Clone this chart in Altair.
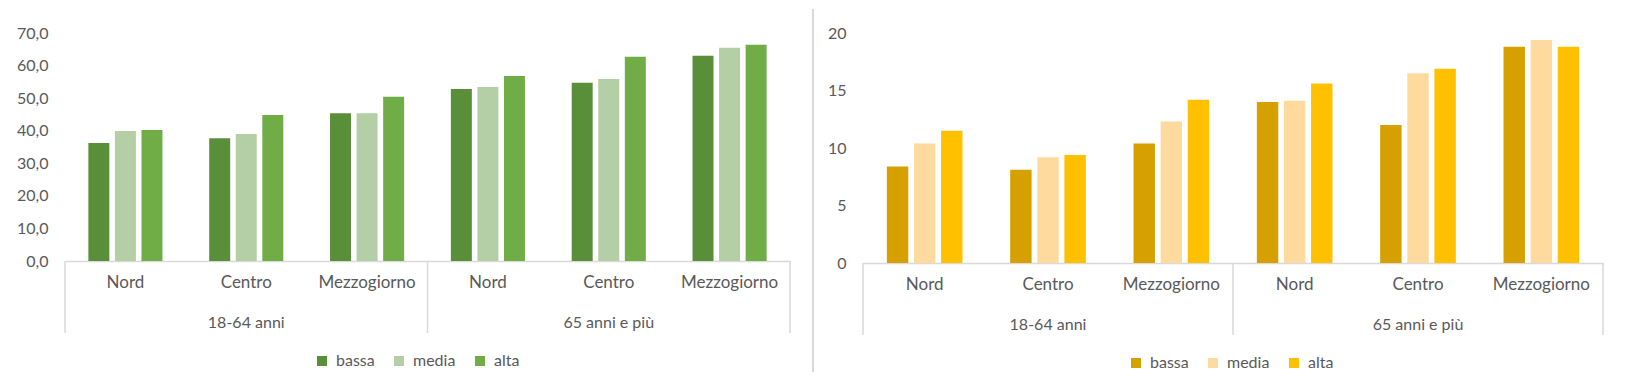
import altair as alt
import pandas as pd

groups = ["18-64 anni", "65 anni e più"]
regions = ["Nord", "Centro", "Mezzogiorno"]
series = ["bassa", "media", "alta"]

left_bassa = [36.2, 37.7, 45.4, 52.8, 54.7, 63.0]
left_media = [39.9, 39.0, 45.4, 53.4, 55.9, 65.5]
left_alta = [40.2, 44.8, 50.4, 56.8, 62.7, 66.4]

right_bassa = [8.4, 8.1, 10.4, 14.0, 12.0, 18.8]
right_media = [10.4, 9.2, 12.3, 14.1, 16.5, 19.4]
right_alta = [11.5, 9.4, 14.2, 15.6, 16.9, 18.8]

left_colors = ["#5A8F3A", "#B4CFA5", "#70AD47"]
right_colors = ["#D5A000", "#FFDA9E", "#FFC000"]

left_ticks = [0, 10, 20, 30, 40, 50, 60, 70]
right_ticks = [0, 5, 10, 15, 20]

cats = [f"{g}|{r}" for g in groups for r in regions]

FONT = "Lato"
TXT = "#595959"
GRID = "#D9D9D9"


def make_df(b, m, a):
    rows = []
    for i, c in enumerate(cats):
        for s, vals in zip(series, (b, m, a)):
            rows.append({"cat": c, "serie": s, "val": vals[i]})
    return pd.DataFrame(rows)


def panel(df, colors, ticks, label_expr, width, height, legend_x, divider=False):
    xscale = alt.Scale(domain=cats, paddingInner=0, paddingOuter=0)
    xaxis = alt.Axis(title=None, labelExpr="split(datum.value, '|')[1]", labelAngle=0,
                     ticks=False, domainColor=GRID, domainWidth=1.5, labelPadding=13,
                     labelFont=FONT, labelFontSize=17, labelColor=TXT, labelBaseline="top")
    bars = alt.Chart(df).mark_bar().encode(
        x=alt.X("cat:N", sort=cats, scale=xscale, axis=xaxis),
        xOffset=alt.XOffset("serie:N", sort=series,
                            scale=alt.Scale(domain=series, paddingInner=0.21, paddingOuter=0.88)),
        y=alt.Y("val:Q", scale=alt.Scale(domain=[ticks[0], ticks[-1]], nice=False),
                axis=alt.Axis(title=None, values=ticks, grid=False, domain=False, ticks=False,
                              labelExpr=label_expr, labelPadding=17, minExtent=57, maxExtent=57,
                              labelFont=FONT, labelFontSize=16, labelColor=TXT)),
        color=alt.Color("serie:N", sort=series,
                        scale=alt.Scale(domain=series, range=colors),
                        legend=alt.Legend(orient="none", legendX=legend_x, legendY=height + 92,
                                          direction="horizontal", title=None, symbolType="square",
                                          symbolSize=100, symbolStrokeWidth=0, labelFont=FONT,
                                          labelFontSize=16, labelColor=TXT, columnPadding=16,
                                          labelOffset=6, padding=0)),
    )
    sep_df = pd.DataFrame({"cat": [cats[0], cats[3]]})
    seps = alt.Chart(sep_df).mark_rule(color=GRID, strokeWidth=1.5).encode(
        x=alt.X("cat:N", sort=cats, scale=xscale, bandPosition=0, axis=xaxis),
        y=alt.value(height), y2=alt.value(height + 72))
    end_df = pd.DataFrame({"cat": [cats[-1]]})
    sep_end = alt.Chart(end_df).mark_rule(color=GRID, strokeWidth=1.5).encode(
        x=alt.X("cat:N", sort=cats, scale=xscale, bandPosition=1, axis=xaxis),
        y=alt.value(height), y2=alt.value(height + 72))
    grp_df = pd.DataFrame({"cat": [cats[1], cats[4]], "grp": groups})
    grp = alt.Chart(grp_df).mark_text(font=FONT, fontSize=16, color=TXT, baseline="middle").encode(
        x=alt.X("cat:N", sort=cats, scale=xscale, bandPosition=0.5, axis=xaxis),
        y=alt.value(height + 62), text="grp:N")
    layers = [bars, seps, sep_end, grp]
    if divider:
        div = alt.Chart(pd.DataFrame({"d": [0]})).mark_rule(color=GRID, strokeWidth=2).encode(
            x=alt.value(width + 23), y=alt.value(-24), y2=alt.value(339))
        layers.append(div)
    return alt.layer(*layers).properties(width=width, height=height)


left = panel(make_df(left_bassa, left_media, left_alta), left_colors, left_ticks,
             "replace(format(datum.value, '.1f'), '.', ',')", 725, 228, 249, divider=True)
right = panel(make_df(right_bassa, right_media, right_alta), right_colors, right_ticks,
              "format(datum.value, 'd')", 740, 230, 265)

chart = alt.hconcat(left, right, spacing=73, bounds="flush").resolve_scale(
    color="independent", x="independent", y="independent", xOffset="independent"
).properties(padding={"left": 0, "top": 0, "right": 0, "bottom": 0}, background="white"
).configure_view(stroke=None)

chart.save("out.html", embed_options={"renderer": "svg", "actions": False})
